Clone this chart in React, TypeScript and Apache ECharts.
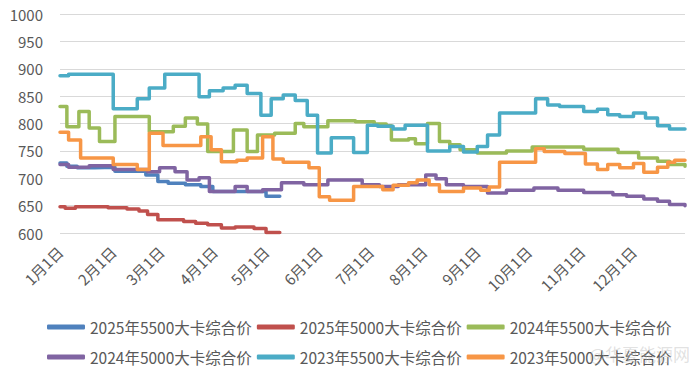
import React, { useEffect, useRef } from "react";
import * as echarts from "echarts";

// Month lengths used to build the daily category axis
const monthDays = [31, 28, 31, 30, 31, 30, 31, 31, 30, 31, 30, 31];
const categories: string[] = [];
monthDays.forEach((n, m) => {
  for (let d = 1; d <= n; d++) categories.push(`${m + 1}月${d}日`);
});

const seriesNames = [
  "2025年5500大卡综合价",
  "2025年5000大卡综合价",
  "2024年5500大卡综合价",
  "2024年5000大卡综合价",
  "2023年5500大卡综合价",
  "2023年5000大卡综合价",
];
const seriesColors = ["#4F81BD", "#C0504D", "#9BBB59", "#8064A2", "#4BACC6", "#F79646"];

// Price change points: [date, price]; the price holds until the next point
const price2025_5500: [string, number][] = [
  ["1月1日", 728], ["1月5日", 722], ["1月11日", 719], ["1月21日", 720], ["2月2日", 713],
  ["2月20日", 706], ["2月27日", 694], ["3月5日", 691], ["3月15日", 688], ["3月24日", 685],
  ["3月31日", 676], ["5月1日", 667], ["5月9日", 667],
];
const price2025_5000: [string, number][] = [
  ["1月1日", 648], ["1月4日", 645], ["1月10日", 648], ["1月29日", 646], ["2月9日", 644],
  ["2月16日", 640], ["2月21日", 634], ["2月27日", 624], ["3月14日", 621], ["3月21日", 618],
  ["3月28日", 615], ["4月5日", 609], ["4月13日", 611], ["4月24日", 608], ["5月1日", 601],
  ["5月9日", 601],
];
const price2024_5500: [string, number][] = [
  ["1月1日", 831], ["1月5日", 794], ["1月12日", 822], ["1月18日", 792], ["1月24日", 767],
  ["2月2日", 813], ["2月22日", 785], ["3月8日", 795], ["3月15日", 810], ["3月22日", 799],
  ["3月28日", 749], ["4月12日", 788], ["4月20日", 749], ["4月26日", 779], ["5月6日", 782],
  ["5月18日", 800], ["5月23日", 794], ["6月6日", 805], ["6月22日", 803], ["7月3日", 799],
  ["7月10日", 796], ["7月13日", 770], ["7月23日", 772], ["7月27日", 763], ["8月3日", 800],
  ["8月10日", 767], ["8月16日", 761], ["8月22日", 752], ["9月1日", 746], ["9月18日", 750],
  ["10月3日", 757], ["10月18日", 757], ["11月2日", 753], ["11月22日", 747], ["12月4日", 737],
  ["12月15日", 731], ["12月22日", 725], ["12月31日", 722],
];
const price2024_5000: [string, number][] = [
  ["1月1日", 725], ["1月6日", 720], ["1月18日", 723], ["2月1日", 716], ["2月21日", 712],
  ["2月28日", 719], ["3月9日", 712], ["3月16日", 697], ["3月23日", 701], ["3月29日", 676],
  ["4月13日", 685], ["4月20日", 676], ["4月29日", 679], ["5月10日", 692], ["5月23日", 688],
  ["6月6日", 697], ["6月26日", 688], ["7月6日", 685], ["7月17日", 688], ["8月2日", 706],
  ["8月8日", 699], ["8月14日", 688], ["8月24日", 685], ["9月7日", 673], ["9月18日", 678],
  ["10月4日", 682], ["10月18日", 678], ["11月2日", 674], ["11月19日", 670], ["11月27日", 667],
  ["12月7日", 662], ["12月15日", 658], ["12月22日", 652], ["12月31日", 650],
];
const price2023_5500: [string, number][] = [
  ["1月1日", 887], ["1月6日", 890], ["2月1日", 827], ["2月15日", 845], ["2月22日", 865],
  ["3月3日", 890], ["3月23日", 849], ["3月29日", 860], ["4月6日", 865], ["4月13日", 870],
  ["4月20日", 855], ["4月28日", 815], ["5月4日", 845], ["5月11日", 852], ["5月18日", 842],
  ["5月25日", 815], ["5月31日", 746], ["6月8日", 774], ["6月21日", 747], ["6月29日", 797],
  ["7月5日", 795], ["7月14日", 790], ["7月21日", 797], ["8月3日", 750], ["8月16日", 758],
  ["8月24日", 748], ["9月1日", 758], ["9月7日", 779], ["9月14日", 819], ["10月5日", 845],
  ["10月12日", 834], ["10月19日", 831], ["11月2日", 822], ["11月10日", 826], ["11月16日", 816],
  ["11月23日", 813], ["12月1日", 819], ["12月8日", 810], ["12月15日", 796], ["12月22日", 790],
  ["12月31日", 790],
];
const price2023_5000: [string, number][] = [
  ["1月1日", 784], ["1月6日", 770], ["1月13日", 737], ["2月1日", 725], ["2月15日", 716],
  ["2月22日", 782], ["3月2日", 760], ["3月24日", 776], ["3月30日", 752], ["4月5日", 730],
  ["4月14日", 733], ["4月20日", 737], ["4月29日", 776], ["5月5日", 735], ["5月11日", 729],
  ["5月26日", 719], ["6月1日", 666], ["6月7日", 660], ["6月21日", 685], ["7月8日", 679],
  ["7月14日", 687], ["7月23日", 692], ["7月28日", 697], ["8月4日", 688], ["8月10日", 676],
  ["8月24日", 682], ["9月3日", 678], ["9月8日", 684], ["9月14日", 729], ["10月5日", 754],
  ["10月10日", 749], ["10月22日", 745], ["11月3日", 726], ["11月10日", 716], ["11月16日", 725],
  ["11月23日", 719], ["12月1日", 727], ["12月7日", 711], ["12月15日", 720], ["12月21日", 729],
  ["12月25日", 733], ["12月31日", 733],
];

const allData = [price2025_5500, price2025_5000, price2024_5500, price2024_5000, price2023_5500, price2023_5000];

const yMin = 600;
const yMax = 1000;
const yStep = 50;

const FONT = "'Noto Sans CJK SC', 'Noto Sans', sans-serif";

export default function App() {
  const ref = useRef<HTMLDivElement>(null);
  useEffect(() => {
    if (!ref.current) return;
    const chart = echarts.init(ref.current, undefined, { renderer: "svg" });
    const legendCommon = {
      left: 47,
      itemWidth: 38,
      itemHeight: 5,
      itemGap: 5,
      icon: "roundRect",
      padding: 0,
      textStyle: { color: "#595959", fontSize: 15.5, lineHeight: 18, fontFamily: FONT },
    };
    chart.setOption({
      animation: false,
      backgroundColor: "#ffffff",
      textStyle: { fontFamily: FONT },
      grid: { left: 60, right: 15, top: 14, bottom: 136, containLabel: false },
      legend: [
        { ...legendCommon, top: 318, data: seriesNames.slice(0, 3) },
        { ...legendCommon, top: 348, data: seriesNames.slice(3, 6) },
      ],
      xAxis: {
        type: "category",
        data: categories,
        boundaryGap: false,
        axisLine: { show: false },
        axisTick: { show: false },
        axisLabel: {
          rotate: 45,
          margin: 16,
          color: "#595959",
          fontSize: 15,
          fontFamily: FONT,
          interval: (_i: number, v: string) => v.endsWith("月1日"),
        },
        splitLine: { show: false },
      },
      yAxis: {
        type: "value",
        min: yMin,
        max: yMax,
        interval: yStep,
        axisLine: { show: false },
        axisTick: { show: false },
        axisLabel: {
          color: "#595959",
          fontSize: 15,
          fontFamily: FONT,
          margin: 17,
          formatter: (v: number) => String(v),
        },
        splitLine: { lineStyle: { color: "#d9d9d9", width: 1 } },
      },
      series: seriesNames.map((name, i) => ({
        name,
        type: "line",
        step: "end",
        symbol: "none",
        data: allData[i],
        color: seriesColors[i],
        lineStyle: { width: 3.5, color: seriesColors[i], join: "round", cap: "round" },
        z: 2 + i,
      })),
      graphic: [
        {
          type: "text",
          right: 10,
          top: 345,
          style: {
            text: "@华夏能源网",
            fill: "rgba(180,180,180,0.4)",
            fontSize: 17,
            fontFamily: FONT,
          },
          z: 100,
        },
      ],
    });
    return () => chart.dispose();
  }, []);
  return (
    <div
      ref={ref}
      style={{ position: "fixed", left: 0, top: 0, width: 700, height: 369, background: "#fff" }}
    />
  );
}
